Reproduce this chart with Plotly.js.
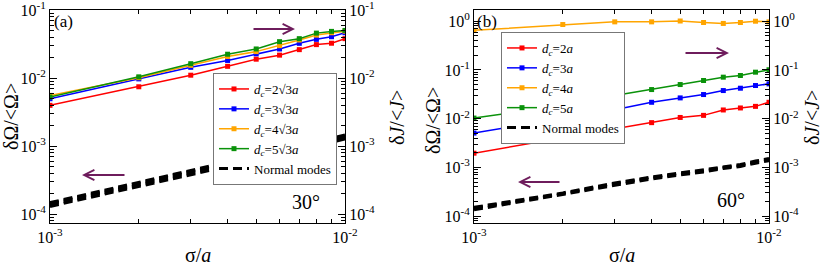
<!DOCTYPE html>
<html>
<head>
<meta charset="utf-8">
<script src="https://cdn.plot.ly/plotly-3.0.1.min.js"></script>
<style>html,body{margin:0;padding:0;background:#fff;}#chart{width:822px;height:265px;}</style>
</head>
<body>
<div id="chart"></div>
<script>
// ---- data ----
const sigma = [0.001, 0.002, 0.003, 0.004, 0.005, 0.006, 0.007, 0.008, 0.009, 0.010];

// panel (a) 30 degrees
const aNames = ['<i>d</i><sub><i>c</i></sub>=2√3<i>a</i>', '<i>d</i><sub><i>c</i></sub>=3√3<i>a</i>',
                '<i>d</i><sub><i>c</i></sub>=4√3<i>a</i>', '<i>d</i><sub><i>c</i></sub>=5√3<i>a</i>'];
const a_dc2 = [0.0040, 0.0075, 0.0111, 0.0150, 0.0191, 0.0219, 0.0264, 0.0313, 0.0328, 0.0383];
const a_dc3 = [0.0050, 0.0098, 0.0145, 0.0183, 0.0229, 0.0270, 0.0327, 0.0374, 0.0409, 0.0468];
const a_dc4 = [0.0056, 0.0102, 0.0155, 0.0209, 0.0247, 0.0302, 0.0366, 0.0432, 0.0468, 0.0494];
const a_dc5 = [0.0053, 0.0105, 0.0164, 0.0226, 0.0270, 0.0346, 0.0383, 0.0462, 0.0490, 0.0506];
const a_nm1 = [1.30e-4, 2.55e-4, 3.75e-4, 5.0e-4, 6.2e-4, 7.4e-4, 8.7e-4, 1.0e-3, 1.13e-3, 1.28e-3];
const a_nm2 = [1.36e-4, 2.70e-4, 3.95e-4, 5.3e-4, 6.6e-4, 7.9e-4, 9.2e-4, 1.06e-3, 1.19e-3, 1.34e-3];
const a_nm3 = [1.42e-4, 2.82e-4, 4.15e-4, 5.55e-4, 6.9e-4, 8.3e-4, 9.7e-4, 1.11e-3, 1.25e-3, 1.40e-3];
const a_nm4 = [1.48e-4, 2.95e-4, 4.35e-4, 5.8e-4, 7.2e-4, 8.7e-4, 1.01e-3, 1.16e-3, 1.31e-3, 1.46e-3];

// panel (b) 60 degrees
const bNames = ['<i>d</i><sub><i>c</i></sub>=2<i>a</i>', '<i>d</i><sub><i>c</i></sub>=3<i>a</i>',
                '<i>d</i><sub><i>c</i></sub>=4<i>a</i>', '<i>d</i><sub><i>c</i></sub>=5<i>a</i>'];
const b_dc2 = [0.00196, 0.0041, 0.0063, 0.0083, 0.0106, 0.0117, 0.0151, 0.0166, 0.0179, 0.0217];
const b_dc3 = [0.00507, 0.0103, 0.0153, 0.0217, 0.0267, 0.0313, 0.0378, 0.0422, 0.0479, 0.0519];
const b_dc4 = [0.65, 0.855, 0.97, 0.97, 1.01, 0.94, 0.90, 0.94, 1.00, 0.97];
const b_dc5 = [0.0103, 0.0185, 0.0298, 0.0396, 0.0502, 0.0608, 0.0711, 0.0770, 0.0900, 0.1010];
const b_nm1 = [1.35e-4, 2.75e-4, 4.3e-4, 5.8e-4, 7.0e-4, 8.1e-4, 9.5e-4, 1.05e-3, 1.22e-3, 1.38e-3];
const b_nm2 = [1.45e-4, 2.90e-4, 4.6e-4, 6.2e-4, 7.4e-4, 8.5e-4, 1.0e-3, 1.10e-3, 1.30e-3, 1.47e-3];
const b_nm3 = [1.52e-4, 3.00e-4, 4.8e-4, 6.4e-4, 7.7e-4, 8.9e-4, 1.04e-3, 1.15e-3, 1.35e-3, 1.53e-3];

// tick labels
const xTickVals = [0.001, 0.01];
const xTickText = ['10<sup>-3</sup>', '10<sup>-2</sup>'];
const aTickVals = [1e-4, 1e-3, 1e-2, 1e-1];
const aTickText = ['10<sup>-4</sup>', '10<sup>-3</sup>', '10<sup>-2</sup>', '10<sup>-1</sup>'];
const bTickVals = [1e-4, 1e-3, 1e-2, 1e-1, 1];
const bTickText = ['10<sup>-4</sup>', '10<sup>-3</sup>', '10<sup>-2</sup>', '10<sup>-1</sup>', '10<sup>0</sup>'];

// ---- styles ----
const colors = ['#ff0000', '#0000ff', '#ffa500', '#0a920a'];
const FONT = "'Liberation Serif', 'DejaVu Serif', serif";
const W = 822, H = 265;
const px = v => v / W;
const py = v => 1 - v / H;

const traces = [];
[a_dc2, a_dc3, a_dc4, a_dc5].forEach((ys, i) => traces.push({
  x: sigma, y: ys, xaxis: 'x', yaxis: 'y2', name: aNames[i], legend: 'legend',
  mode: 'lines+markers', line: {color: colors[i], width: 1.5},
  marker: {symbol: 'square', size: 5, color: colors[i]}
}));
[a_nm1, a_nm2, a_nm3, a_nm4].forEach((ys, i) => traces.push({
  x: sigma, y: ys, xaxis: 'x', yaxis: 'y', name: 'Normal modes', legend: 'legend',
  showlegend: i === 0, legendgroup: 'nma',
  mode: 'lines', line: {color: '#000', width: 3, dash: '9px,5px'}
}));
[b_dc2, b_dc3, b_dc4, b_dc5].forEach((ys, i) => traces.push({
  x: sigma, y: ys, xaxis: 'x2', yaxis: 'y4', name: bNames[i], legend: 'legend2',
  mode: 'lines+markers', line: {color: colors[i], width: 1.5},
  marker: {symbol: 'square', size: 5, color: colors[i]}
}));
[b_nm1, b_nm2, b_nm3].forEach((ys, i) => traces.push({
  x: sigma, y: ys, xaxis: 'x2', yaxis: 'y3', name: 'Normal modes', legend: 'legend2',
  showlegend: i === 0, legendgroup: 'nmb',
  mode: 'lines', line: {color: '#000', width: 3, dash: '9px,5px'}
}));

const tickFont = {family: FONT, size: 16, color: '#000'};
function xax(domain, anchor) {
  return {
    type: 'log', range: [-3, -2], domain: domain, anchor: anchor,
    showline: true, linecolor: '#000', linewidth: 1, mirror: 'ticks',
    ticks: 'inside', ticklen: 7, tickcolor: '#000',
    tickmode: 'array', tickvals: xTickVals, ticktext: xTickText,
    minor: {ticks: 'inside', ticklen: 4, tickcolor: '#000', tickmode: 'linear', dtick: 'D1', showgrid: false},
    showgrid: false, zeroline: false, tickfont: tickFont, ticklabeloverflow: 'allow'
  };
}
function yax(range, domain, anchor, side, vals, text, overlaying) {
  const o = {
    type: 'log', range: range, domain: domain, anchor: anchor, side: side,
    showline: true, linecolor: '#000', linewidth: 1, mirror: false,
    ticks: 'inside', ticklen: 7, tickcolor: '#000',
    tickmode: 'array', tickvals: vals, ticktext: text,
    minor: {ticks: 'inside', ticklen: 4, tickcolor: '#000', tickmode: 'linear', dtick: 'D1', showgrid: false},
    showgrid: false, zeroline: false, tickfont: tickFont, ticklabeloverflow: 'allow'
  };
  if (overlaying) o.overlaying = overlaying;
  return o;
}
const yDom = [(H - 223) / H, (H - 10) / H];
const rangeA = [-4.13, -0.995];
const rangeB = [-4.14, 0.23];

const legendFont = {family: FONT, size: 13, color: '#000'};
const arrowColor = '#6e1c5c';
function arrow(xHead, y, dx) {
  return {xref: 'paper', yref: 'paper', x: px(xHead), y: py(y), ax: dx, ay: 0,
          axref: 'pixel', ayref: 'pixel', text: '', showarrow: true,
          arrowhead: 5, arrowsize: 1, arrowwidth: 2, arrowcolor: arrowColor, standoff: 0};
}
function label(text, x, y, size, angle) {
  return {xref: 'paper', yref: 'paper', x: px(x), y: py(y), text: text, showarrow: false,
          xanchor: 'center', yanchor: 'middle', textangle: angle || 0,
          font: {family: FONT, size: size, color: '#000'}};
}

const layout = {
  width: W, height: H,
  margin: {l: 0, r: 0, t: 0, b: 0},
  paper_bgcolor: '#fff', plot_bgcolor: '#fff',
  font: {family: FONT, color: '#000'},
  showlegend: true,
  xaxis: xax([px(50), px(345)], 'y'),
  yaxis: yax(rangeA, yDom, 'x', 'left', aTickVals, aTickText),
  yaxis2: yax(rangeA, yDom, 'x', 'right', aTickVals, aTickText, 'y'),
  xaxis2: xax([px(474), px(769)], 'y3'),
  yaxis3: yax(rangeB, yDom, 'x2', 'left', bTickVals, bTickText),
  yaxis4: yax(rangeB, yDom, 'x2', 'right', bTickVals, bTickText, 'y3'),
  legend: {x: px(213), y: py(73), xanchor: 'left', yanchor: 'top',
           bgcolor: '#fff', bordercolor: '#777', borderwidth: 1, font: legendFont,
           tracegroupgap: 0},
  legend2: {x: px(501), y: py(32), xanchor: 'left', yanchor: 'top',
            bgcolor: '#fff', bordercolor: '#777', borderwidth: 1, font: legendFont,
            tracegroupgap: 0},
  annotations: [
    arrow(295, 29, -43), arrow(82, 175, 44),
    arrow(729, 53, -45), arrow(518, 182, 43),
    label('(a)', 63, 22, 17), label('(b)', 487, 22, 17),
    label('30°', 306, 202, 20), label('60°', 731, 200, 20),
    label('σ/<i>a</i>', 198, 255, 20), label('σ/<i>a</i>', 622, 255, 20),
    label('δΩ/&lt;Ω&gt;', 11, 117, 20, -90), label('δ<i>J</i>/&lt;<i>J</i>&gt;', 397, 118, 20, -90),
    label('δΩ/&lt;Ω&gt;', 433, 121, 20, -90), label('δ<i>J</i>/&lt;<i>J</i>&gt;', 812, 118, 20, -90)
  ]
};

Plotly.newPlot('chart', traces, layout, {staticPlot: true, displayModeBar: false});
</script>
</body>
</html>
